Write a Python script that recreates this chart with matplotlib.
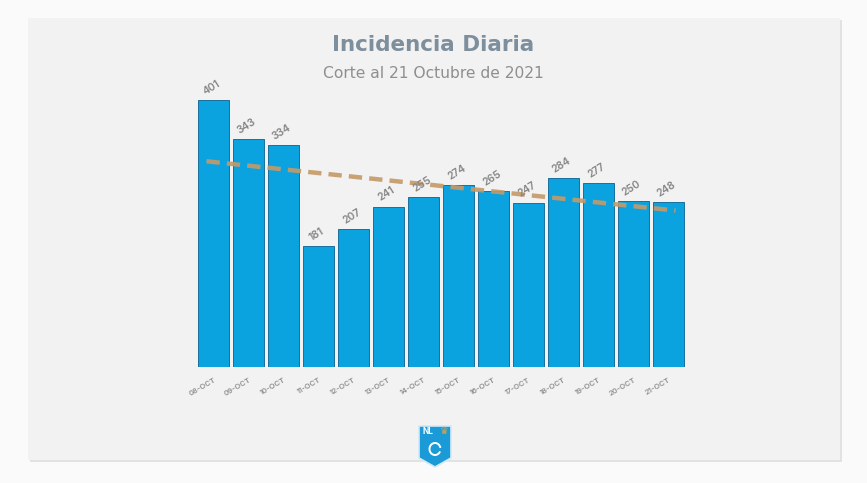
import numpy as np
import matplotlib.pyplot as plt
from matplotlib.patches import Rectangle, Polygon, Arc

fechas = ['08-OCT', '09-OCT', '10-OCT', '11-OCT', '12-OCT', '13-OCT', '14-OCT',
          '15-OCT', '16-OCT', '17-OCT', '18-OCT', '19-OCT', '20-OCT', '21-OCT']
casos = [401, 343, 334, 181, 207, 241, 255, 274, 265, 247, 284, 277, 250, 248]

W, H = 867, 483
fig = plt.figure(figsize=(W / 100, H / 100), dpi=100)
fig.patch.set_facecolor('#fafafa')

# tarjeta gris con sombra
fig.patches.append(Rectangle((30 / W, 1 - 462 / H), 812 / W, 442 / H,
                             transform=fig.transFigure, facecolor='#e2e2e2',
                             edgecolor='none', zorder=-2))
fig.patches.append(Rectangle((28 / W, 1 - 460 / H), 812 / W, 442 / H,
                             transform=fig.transFigure, facecolor='#f2f2f2',
                             edgecolor='none', zorder=-1))

x = np.arange(len(casos))
ax = fig.add_axes([196 / W, 1 - 367 / H, 490 / W, 287 / H])
ax.set_facecolor('none')
ax.bar(x, casos, width=0.9, color='#0aa3df', edgecolor='#1a6f9c', linewidth=0.7, zorder=2)

# linea de tendencia lineal
m, b = np.polyfit(x, casos, 1)
xt = np.array([-0.2, 13.2])
ax.plot(xt, m * xt + b, ls=(0, (3, 1.6)), lw=3.2, color='#c49a68', alpha=0.9, zorder=3)

for xi, v in zip(x, casos):
    ax.text(xi - 0.05, v + 5, str(v), rotation=32, ha='center', va='bottom',
            fontsize=7.5, fontweight='semibold', color='#858585', family='Inter', zorder=4)

ax.set_xlim(-0.5, 13.5)
ax.set_ylim(0, 431)
ax.set_xticks(x)
ax.set_xticklabels(fechas, rotation=30, ha='right', rotation_mode='anchor',
                   fontsize=5.5, color='#8f8f8f', fontweight='semibold', family='Inter')
ax.tick_params(axis='x', length=0, pad=7)
ax.set_yticks([])
for s in ax.spines.values():
    s.set_visible(False)

fig.text(433 / W, 1 - 45 / H, 'Incidencia Diaria', ha='center', va='center',
         fontsize=15.5, fontweight='bold', color='#7d8e9c', family='DejaVu Sans')
fig.text(433 / W, 1 - 73 / H, 'Corte al 21 Octubre de 2021', ha='center', va='center',
         fontsize=11.2, color='#8f8f8f', family='DejaVu Sans')

# escudo NL
escudo = [(419, 426), (451, 426), (451, 458), (435, 467), (419, 458)]
fig.patches.append(Polygon([(px / W, 1 - py / H) for px, py in escudo], closed=True,
                           transform=fig.transFigure, facecolor='#1b9ad8',
                           edgecolor='#d4e9f5', linewidth=1.2, zorder=5))
fig.text(428 / W, 1 - 432 / H, 'NL', ha='center', va='center', fontsize=6,
         fontweight='bold', color='white', family='Inter', zorder=6)
fig.text(444 / W, 1 - 431 / H, '\u265b', ha='center', va='center', fontsize=7,
         color='#d9a441', family='DejaVu Sans', zorder=6)
fig.patches.append(Arc((435 / W, 1 - 449 / H), 11 / W, 12 / H, theta1=20, theta2=320,
                       transform=fig.transFigure, color='white', linewidth=1.4, zorder=6))

fig.savefig('out.png', dpi=100, facecolor=fig.get_facecolor())
